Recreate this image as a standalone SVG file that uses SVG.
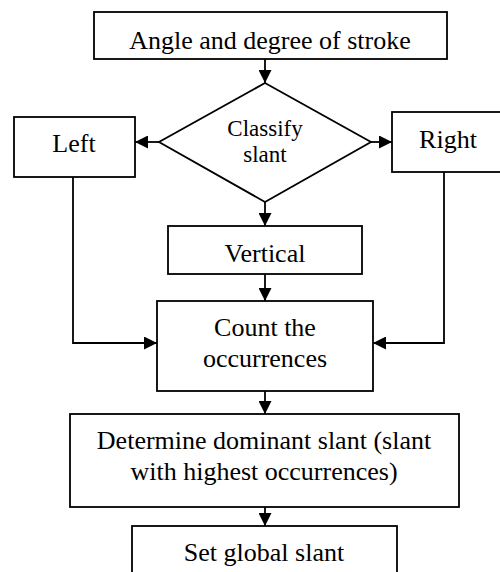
<svg xmlns="http://www.w3.org/2000/svg" width="500" height="572" viewBox="0 0 500 572">
<style>
.box{fill:#fff;stroke:#000;stroke-width:1.8}
.t{font-family:"Liberation Serif","Times New Roman",serif;font-size:26px;fill:#000;text-anchor:middle}
.ts{font-size:23px}
.c{fill:none;stroke:#000;stroke-width:1.8}
</style>
<defs>
<marker id="ah" viewBox="0 0 10 10" refX="10" refY="5" markerWidth="13" markerHeight="13" markerUnits="userSpaceOnUse" orient="auto">
<path d="M0,0 L10,5 L0,10 z" fill="#000"/>
</marker>
</defs>
<g id="n-angle"><rect class="box" x="94" y="12" width="353" height="47"/><text class="t" x="270" y="49">Angle and degree of stroke</text></g>
<g id="n-classify"><polygon class="box" points="265,83 371,142 265,202 159,142"/><text class="t ts" x="265" y="136">Classify</text><text class="t ts" x="265" y="162">slant</text></g>
<g id="n-left"><rect class="box" x="14" y="117" width="121" height="60"/><text class="t" x="74" y="152">Left</text></g>
<g id="n-right"><rect class="box" x="392" y="112" width="115" height="60"/><text class="t" x="448" y="148">Right</text></g>
<g id="n-vertical"><rect class="box" x="168" y="226" width="194" height="48"/><text class="t" x="265" y="262">Vertical</text></g>
<g id="n-count"><rect class="box" x="157" y="301" width="216" height="90"/><text class="t" x="265" y="336">Count the</text><text class="t" x="265" y="367">occurrences</text></g>
<g id="n-dominant"><rect class="box" x="70" y="414" width="389" height="93"/><text class="t" x="264" y="449">Determine dominant slant (slant</text><text class="t" x="264" y="480">with highest occurrences)</text></g>
<g id="n-global"><rect class="box" x="132" y="526" width="265" height="60"/><text class="t" x="264" y="561">Set global slant</text></g>
<g id="connectors">
<line class="c" x1="265" y1="59" x2="265" y2="83" marker-end="url(#ah)"/>
<line class="c" x1="159" y1="142" x2="135" y2="142" marker-end="url(#ah)"/>
<line class="c" x1="371" y1="142" x2="392" y2="142" marker-end="url(#ah)"/>
<line class="c" x1="265" y1="202" x2="265" y2="226" marker-end="url(#ah)"/>
<line class="c" x1="265" y1="274" x2="265" y2="301" marker-end="url(#ah)"/>
<polyline class="c" points="73,177 73,343 157,343" marker-end="url(#ah)"/>
<polyline class="c" points="444,172 444,343 373,343" marker-end="url(#ah)"/>
<line class="c" x1="265" y1="391" x2="265" y2="414" marker-end="url(#ah)"/>
<line class="c" x1="265" y1="507" x2="265" y2="526" marker-end="url(#ah)"/>
</g>
</svg>
